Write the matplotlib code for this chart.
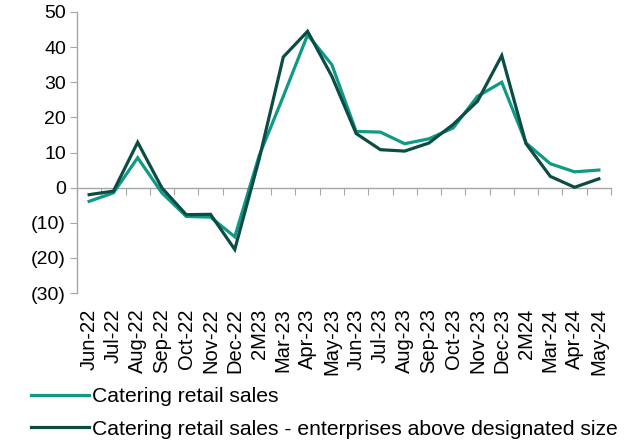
import matplotlib
matplotlib.use("Agg")
import matplotlib.pyplot as plt
from matplotlib.ticker import FuncFormatter, FixedLocator
import numpy as np

plt.rcParams['font.family'] = ['Liberation Sans', 'DejaVu Sans']

months = ["Jun-22", "Jul-22", "Aug-22", "Sep-22", "Oct-22", "Nov-22", "Dec-22",
          "2M23", "Mar-23", "Apr-23", "May-23", "Jun-23", "Jul-23", "Aug-23",
          "Sep-23", "Oct-23", "Nov-23", "Dec-23", "2M24", "Mar-24", "Apr-24", "May-24"]
catering = [-3.9, -1.5, 8.5, -1.5, -8.2, -8.4, -14.0, 9.0, 26.0, 43.5, 35.0, 16.0,
            15.8, 12.5, 13.9, 17.0, 26.0, 30.0, 12.7, 6.8, 4.5, 5.0]
catering_above = [-2.0, -1.0, 12.9, -0.1, -7.7, -7.6, -17.6, 8.0, 37.2, 44.5, 31.7, 15.4,
                  10.8, 10.4, 12.7, 18.0, 24.6, 37.6, 12.5, 3.2, 0.1, 2.5]
series_names = ["Catering retail sales",
                "Catering retail sales - enterprises above designated size"]

teal = "#0f9a86"
dark = "#0b4d44"
grey = "#a6a6a6"

fig = plt.figure(figsize=(6.33, 4.41), dpi=100)
ax = fig.add_axes([77 / 633, 1 - 293 / 441, 534 / 633, 281 / 441])

x = np.arange(len(months))
ax.plot(x, catering, color=teal, lw=2.3, label=series_names[0], solid_joinstyle="miter")
ax.plot(x, catering_above, color=dark, lw=2.3, label=series_names[1], solid_joinstyle="miter")

ax.set_xlim(-0.5, len(months) - 0.5)
ax.set_ylim(-30, 50)
ax.set_yticks(range(-30, 51, 10))
ax.yaxis.set_major_formatter(FuncFormatter(lambda v, p: f"({abs(v):.0f})" if v < 0 else f"{v:.0f}"))

for s in ["top", "right", "bottom"]:
    ax.spines[s].set_visible(False)
ax.spines["left"].set_color(grey)
ax.spines["left"].set_linewidth(1.0)
ax.tick_params(axis="y", length=5, color=grey, labelsize=14, pad=3)

# category labels stay at the bottom, the axis line itself sits at zero
ax.set_xticks(x)
ax.set_xticklabels(months, rotation=90, fontsize=14.5)
ax.tick_params(axis="x", length=0, pad=11)

zero_axis = ax.secondary_xaxis(0, transform=ax.transData)
zero_axis.spines["bottom"].set_color(grey)
zero_axis.spines["bottom"].set_linewidth(1.0)
zero_axis.xaxis.set_major_locator(FixedLocator(np.arange(-0.5, len(months), 1.0)))
zero_axis.tick_params(axis="x", length=5, color=grey, labelbottom=False, direction="out")

fig.legend(loc="upper left", bbox_to_anchor=(31 / 633, 1 - 387 / 441), frameon=False,
           fontsize=15.2, handlelength=2.75, handletextpad=0.12, labelspacing=0.65,
           borderaxespad=0, borderpad=0)

fig.savefig("out.png", dpi=100)
